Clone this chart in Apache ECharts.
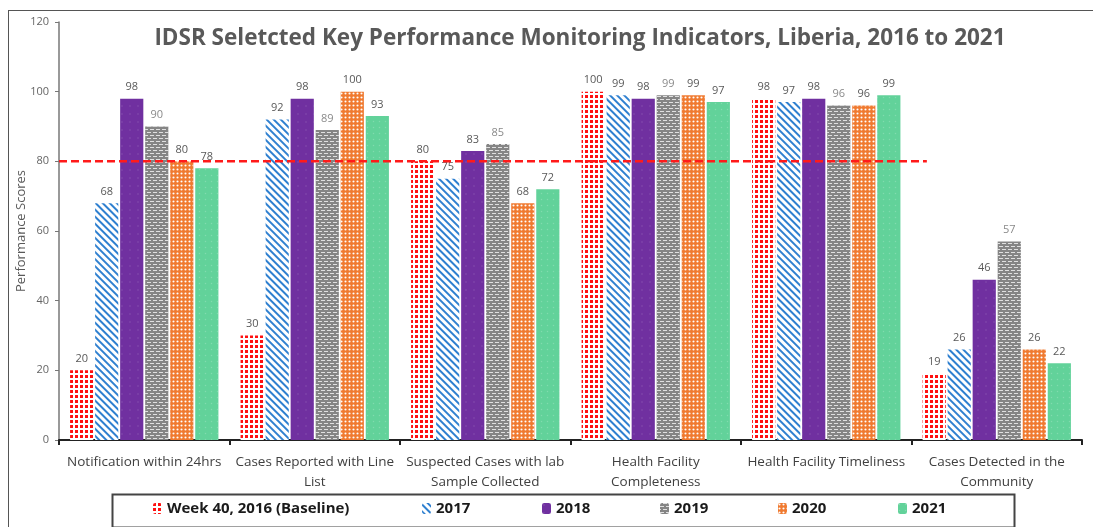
<!DOCTYPE html>
<html>
<head>
<meta charset="utf-8">
<script src="https://cdn.jsdelivr.net/npm/echarts@6/dist/echarts.min.js"></script>
<style>
  html, body { margin: 0; padding: 0; background: #fff; overflow: hidden; }
  #frame { position: absolute; left: 8px; top: 10px; width: 1200px; height: 600px; border: 1.5px solid #555; box-sizing: border-box; }
  #main { position: absolute; left: 0; top: 0; width: 1093px; height: 527px; }
</style>
</head>
<body>
<div id="frame"></div>
<div id="main"></div>
<script>
var categories = ['Notification within 24hrs', 'Cases Reported with Line\nList', 'Suspected Cases with lab\nSample Collected',
  'Health Facility\nCompleteness', 'Health Facility Timeliness', 'Cases Detected in the\nCommunity'];
var yTicks = [0, 20, 40, 60, 80, 100, 120];
var seriesNames = ['Week 40, 2016 (Baseline)', '2017', '2018', '2019', '2020', '2021'];
var baseline = [20, 30, 80, 100, 98, 19];
var y2017 = [68, 92, 75, 99, 97, 26];
var y2018 = [98, 98, 83, 98, 98, 46];
var y2019 = [90, 89, 85, 99, 96, 57];
var y2020 = [80, 100, 68, 99, 96, 26];
var y2021 = [78, 93, 72, 97, 99, 22];
// dashed target line at 80, runs from axis to just past 5 categories
var targetLine = [[0, 80], [5.09, 80]];

var myChart = echarts.init(document.getElementById('main'));

function barSeries(name, data, color, decal, labelColor) {
  return {
    name: name,
    type: 'bar',
    data: data,
    barGap: '8%',
    barCategoryGap: '13%',
    itemStyle: { color: color, decal: decal },
    label: { show: true, position: 'top', distance: 6, color: labelColor || '#595959', fontSize: 11, fontFamily: 'Open Sans' }
  };
}

// legend items are placed one by one, like the spreadsheet legend
var legendLeft = [153, 422, 542, 660, 778, 898];
var legends = seriesNames.map(function (n, i) {
  return {
    left: legendLeft[i], top: 501, padding: 0,
    itemWidth: 9, itemHeight: 11,
    textStyle: { fontSize: 15, fontWeight: 'bold', color: '#1a1a1a', fontFamily: 'Open Sans' },
    data: [n]
  };
});

var option = {
  animation: false,
  backgroundColor: 'transparent',
  title: {
    text: 'IDSR Seletcted Key Performance Monitoring Indicators, Liberia, 2016 to 2021',
    left: 575, textAlign: 'center', top: 22,
    textStyle: { color: '#595959', fontSize: 22.5, fontWeight: 'bold', fontFamily: 'Open Sans' }
  },
  legend: legends,
  graphic: [{
    type: 'rect', left: 110, top: 492, silent: true,
    shape: { width: 902, height: 33 },
    style: { fill: 'none', stroke: '#444', lineWidth: 2 }
  }],
  grid: { left: 59, right: 11, top: 22, bottom: 87 },
  xAxis: [{
    type: 'category',
    data: categories,
    axisLine: { lineStyle: { color: '#222', width: 2 } },
    axisTick: { show: true, length: 5, lineStyle: { color: '#222', width: 2 } },
    axisLabel: { color: '#404040', fontSize: 13.5, lineHeight: 20, margin: 12, fontFamily: 'Open Sans', interval: 0 }
  }, {
    type: 'value', min: 0, max: 6, show: false
  }],
  yAxis: {
    type: 'value', min: yTicks[0], max: yTicks[yTicks.length - 1], interval: 20,
    name: 'Performance Scores', nameLocation: 'middle', nameGap: 31, nameRotate: 90,
    nameMoveOverlap: false,
    nameTextStyle: { color: '#595959', fontSize: 13, fontFamily: 'Open Sans' },
    axisLine: { show: true, lineStyle: { color: '#777', width: 1.5 } },
    axisTick: { show: true, length: 4, lineStyle: { color: '#777' } },
    splitLine: { show: false },
    axisLabel: { color: '#666', fontSize: 11, margin: 10, fontFamily: 'Open Sans' }
  },
  series: [
    barSeries(seriesNames[0], baseline, '#ffffff',
      { symbol: 'rect', color: '#ff1010', symbolSize: 1, dashArrayX: [3, 1.5], dashArrayY: [3, 1.5] }),
    barSeries(seriesNames[1], y2017, '#ffffff',
      { symbol: 'rect', color: '#2f80d0', dashArrayX: [1, 0], dashArrayY: [1.6, 2.2], rotation: Math.PI / 4 }),
    barSeries(seriesNames[2], y2018, '#7030a0',
      { symbol: 'circle', color: 'rgba(255,255,255,0.15)', symbolSize: 0.4, dashArrayX: [4, 4], dashArrayY: [4, 4] }),
    barSeries(seriesNames[3], y2019, '#858585',
      { symbol: 'rect', color: 'rgba(255,255,255,0.75)', symbolSize: 1, dashArrayX: [[4, 2], [1, 2, 3, 0]], dashArrayY: [1, 2] }, '#8a8a8a'),
    barSeries(seriesNames[4], y2020, '#f07a30',
      { symbol: 'circle', color: '#ffffff', symbolSize: 0.7, dashArrayX: [3, 1], dashArrayY: [3, 1] }),
    barSeries(seriesNames[5], y2021, '#62d29a',
      { symbol: 'circle', color: 'rgba(255,255,255,0.2)', symbolSize: 0.5, dashArrayX: [3, 3], dashArrayY: [3, 3] }),
    {
      name: 'target', type: 'line', xAxisIndex: 1, data: targetLine, symbol: 'none', silent: true,
      lineStyle: { color: '#ff1a1a', type: [8, 4], width: 2.5 }, z: 5
    }
  ]
};
myChart.setOption(option);
</script>
</body>
</html>
